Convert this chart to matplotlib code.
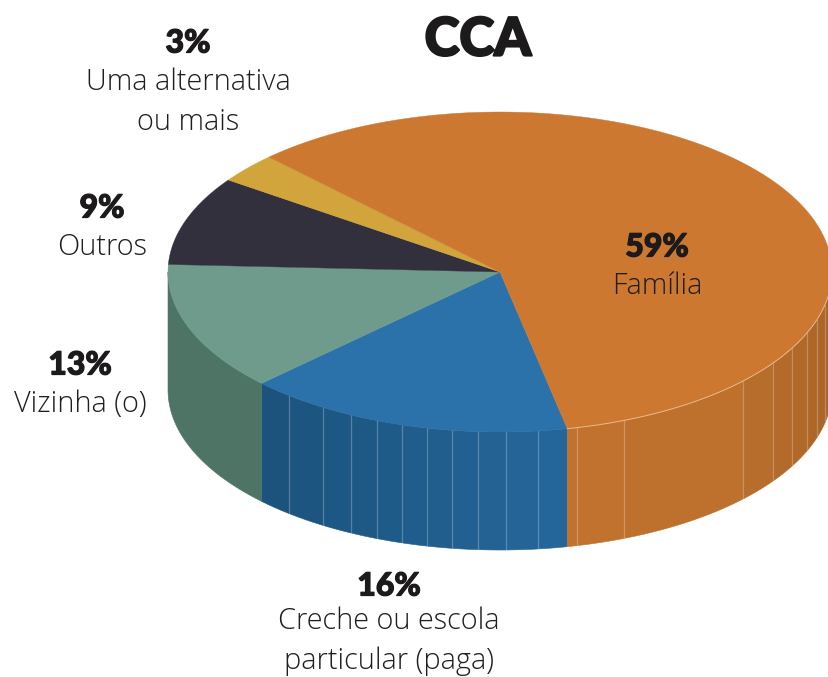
import matplotlib
matplotlib.use('Agg')
import matplotlib.pyplot as plt
import matplotlib.colors as mc
import matplotlib.patheffects as pe
import numpy as np

labels = ['Creche ou escola\nparticular (paga)', 'Vizinha (o)', 'Outros', 'Uma alternativa\nou mais', 'Família']
pct = [16, 13, 9, 3, 59]
top_colors = ['#2b71aa', '#6e9b8b', '#33303d', '#d1a53c', '#cc7830']
side_left = ['#1b527c', '#4e7465', '#33303d', '#d1a53c', '#c0722e']
side_right = ['#25679b', '#4e7465', '#33303d', '#d1a53c', '#a96427']
side_power = [1, 1, 1, 1, 3]
seams = [289, 323, 351, 377, 402, 427, 452, 478, 506, 538, 577, 624, 743, 773, 792, 807, 817, 825]

cx, cy, rx, ry, depth = 500, 272, 332, 160, 118
start = -11.7

fig = plt.figure(figsize=(8.29, 6.77), dpi=100)
ax = fig.add_axes([0, 0, 1, 1])
ax.set_xlim(0, 829)
ax.set_ylim(677, 0)
ax.axis('off')


def rim(a, dy=0):
    a = np.radians(a)
    return cx - rx * np.sin(a), cy + ry * np.cos(a) + dy


edges = start + np.cumsum([0] + pct) * 3.6
seam_angles = np.degrees(np.arcsin((cx - np.array(seams)) / rx))

# side of the drum, only the front half shows
for i in range(len(pct)):
    a0, a1 = edges[i], edges[i + 1]
    for shift in (0, 360):
        lo, hi = max(a0, -90 + shift), min(a1, 90 + shift)
        if lo >= hi:
            continue
        cuts = np.sort(np.r_[lo, hi, [s + shift for s in seam_angles if lo < s + shift < hi]])
        xs = [rim(c)[0] for c in cuts]
        x_lo, x_hi = min(xs), max(xs)
        for k in range(len(cuts) - 1):
            t = np.linspace(cuts[k], cuts[k + 1], 30)
            x, y = rim(t)
            xb, yb = rim(t[::-1], depth)
            f = ((x.mean() - x_lo) / (x_hi - x_lo)) ** side_power[i]
            c = np.array(mc.to_rgb(side_left[i])) * (1 - f) + np.array(mc.to_rgb(side_right[i])) * f
            ax.fill(np.r_[x, xb], np.r_[y, yb], color=c, lw=0.4, zorder=1)

for sx, a in zip(seams, seam_angles):
    x0, y0 = rim(a)
    x1, y1 = rim(a, depth)
    ax.plot([x0, x1], [y0, y1], color='#ffffff', alpha=0.25, lw=0.9, zorder=2)

# top face
for i in range(len(pct)):
    t = np.linspace(edges[i], edges[i + 1], 150)
    x, y = rim(t)
    ax.fill(np.r_[cx, x], np.r_[cy, y], color=top_colors[i], lw=0.3, zorder=3)

t = np.linspace(270, edges[0] + 360, 120)
ax.plot(*rim(t), color='#f0c9a0', lw=0.7, alpha=0.8, zorder=4)

ink = '#1c1a1b'
ax.text(478, 40, 'CCA', ha='center', va='center', fontsize=38, fontweight=900, family='Lato', color=ink,
        path_effects=[pe.withStroke(linewidth=1.6, foreground=ink)])

pct_pos = [(389, 586), (80, 365), (102, 208), (188, 43), (657, 247)]
lab_pos = [(389, 641), (80, 404), (102, 247), (188, 102), (657, 286)]
for i in range(len(pct)):
    ax.text(*pct_pos[i], f'{pct[i]}%', ha='center', va='center', fontsize=23, fontweight=900, family='Lato',
            color=ink, path_effects=[pe.withStroke(linewidth=0.9, foreground=ink)])
    ax.text(*lab_pos[i], labels[i], ha='center', va='center', fontsize=20.8, fontweight=300, family='Open Sans',
            color='#1f1d1e', linespacing=1.45)

fig.savefig('out.png', dpi=100)
